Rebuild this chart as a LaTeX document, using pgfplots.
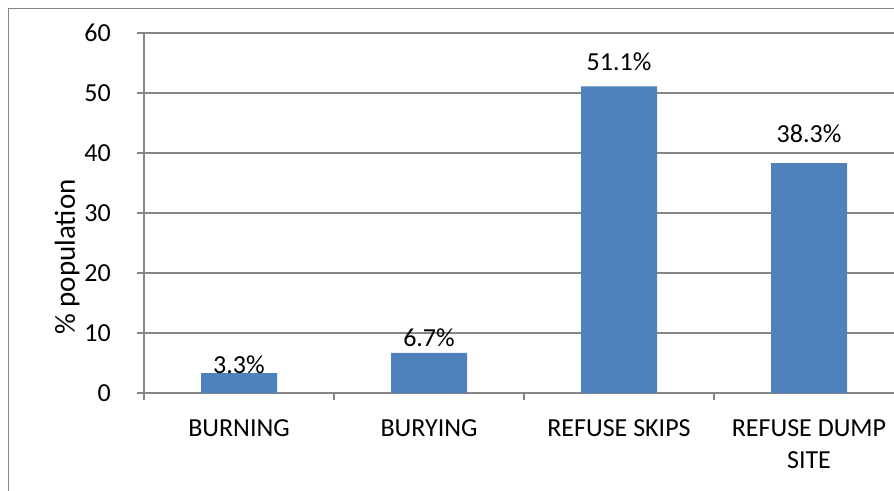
\documentclass[border=0pt]{standalone}
\usepackage{pgfplots}
\pgfplotsset{compat=1.18}
\usepackage{fontspec}
\setmainfont{Carlito}
\definecolor{barblue}{HTML}{4F81BD}
\definecolor{gridgray}{HTML}{868686}
\begin{document}
\begin{tikzpicture}
  \useasboundingbox (0pt,0pt) rectangle (894pt,490pt);
  \clip (0pt,0pt) rectangle (894pt,490pt);
  \draw[gridgray, line width=1.2pt] (8.5pt,481.5pt) rectangle (920pt,-20pt);
  \begin{axis}[
    at={(144pt,97pt)}, anchor=south west,
    scale only axis, width=760pt, height=360pt,
    font=\fontsize{26}{32}\selectfont,
    /pgf/number format/assume math mode=true,
    xmin=-0.5, xmax=3.5, ymin=0, ymax=60,
    ytick={0,10,...,60},
    xtick={-0.5,0.5,1.5,2.5,3.5}, xticklabels={},
    extra x ticks={0,1,2,3},
    extra x tick labels={BURNING,BURYING,REFUSE SKIPS,{REFUSE DUMP\\SITE}},
    extra x tick style={major tick length=0pt, grid=none},
    xticklabel style={anchor=north, inner sep=0pt, yshift=-26pt, align=center},
    yticklabel style={anchor=east, inner sep=0pt, xshift=-26pt},
    axis x line*=bottom, axis y line*=left,
    axis line style={-, gridgray, line width=1.2pt},
    tick style={gridgray, line width=1.2pt},
    tick align=outside, major tick length=7pt,
    ymajorgrids, grid style={gridgray, line width=1.2pt},
    ylabel={\% population},
    every axis y label/.style={at={(axis description cs:-0.101,0.378)}, rotate=90,
      anchor=center, font=\fontsize{29}{34}\selectfont},
    clip=false,
  ]
    \addplot[ybar, bar width=76pt, fill=barblue, draw=none]
      coordinates {(0,3.3) (1,6.7) (2,51.1) (3,38.3)};
    % value labels, placed at their baselines
    \addplot[draw=none, mark=none,
      nodes near coords, point meta=explicit symbolic,
      every node near coord/.append style={anchor=base, inner sep=0pt, text=black}]
      coordinates {(0,3.33)[3.3\%] (1,7.67)[6.7\%] (2,53.8)[51.1\%] (3,41.8)[38.3\%]};
  \end{axis}
\end{tikzpicture}
\end{document}
